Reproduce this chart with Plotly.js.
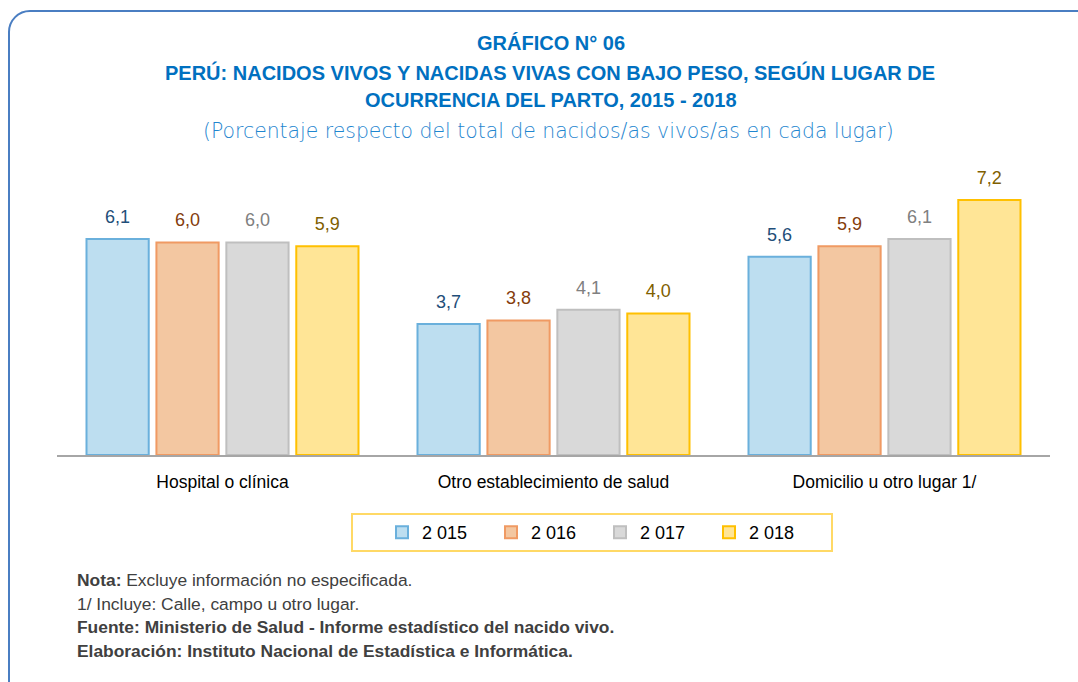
<!DOCTYPE html>
<html>
<head>
<meta charset="utf-8">
<script src="https://cdn.plot.ly/plotly-3.0.1.min.js"></script>
<style>
  html, body { margin:0; padding:0; background:#fff; }
  #frame { position:absolute; left:8px; top:10px; width:1100px; height:700px; border:2px solid #4A7EC2; border-radius:22px; box-sizing:border-box; pointer-events:none; z-index:2; }
  #chart { position:absolute; left:0; top:0; width:1078px; height:682px; }
</style>
</head>
<body>
<div id="chart"></div>
<div id="frame"></div>
<script>
const categories = ["Hospital o clínica", "Otro establecimiento de salud", "Domicilio u otro lugar 1/"];
const years = ["2 015", "2 016", "2 017", "2 018"];
const v2015 = [6.1, 3.7, 5.6];
const v2016 = [6.0, 3.8, 5.9];
const v2017 = [6.0, 4.1, 6.1];
const v2018 = [5.9, 4.0, 7.2];

const series = [v2015, v2016, v2017, v2018];
const fills = ["#BDDEF0", "#F3C7A1", "#D9D9D9", "#FFE596"];
const lines = ["#6AB0DC", "#F09A63", "#BFBFBF", "#FFC000"];
const labelColors = ["#1F4E79", "#843C0C", "#808080", "#7F6000"];

const FONT = "'Liberation Sans', Arial, sans-serif";

const W = 1078, H = 682;
const mL = 57, mR = 28, mT = 160, mB = 227;
const pw = W - mL - mR, ph = H - mT - mB;
const px = x => (x - mL) / pw;
const py = y => (H - mB - y) / ph;

const barTraces = series.map((vals, i) => ({
  type: "bar",
  name: years[i],
  x: categories,
  y: vals,
  offsetgroup: "g" + i,
  marker: { color: fills[i], line: { color: lines[i], width: 2 } },
  hoverinfo: "skip"
}));

const labelTraces = series.map((vals, i) => ({
  type: "scatter",
  mode: "markers+text",
  showlegend: false,
  x: categories,
  y: vals,
  offsetgroup: "g" + i,
  marker: { size: 17, opacity: 0 },
  text: vals.map(v => v.toFixed(1).replace(".", ",")),
  textposition: "top center",
  cliponaxis: false,
  textfont: { family: FONT, size: 18, color: labelColors[i] },
  hoverinfo: "skip"
}));

const annotations = [
  { text: "<b>GRÁFICO N° 06</b>", x: px(551), y: py(43), size: 20, color: "#0070C0", family: FONT },
  { text: "<b>PERÚ: NACIDOS VIVOS Y NACIDAS VIVAS CON BAJO PESO, SEGÚN LUGAR DE</b>", x: px(550), y: py(72), size: 20, color: "#0070C0", family: FONT },
  { text: "<b>OCURRENCIA DEL PARTO, 2015 - 2018</b>", x: px(551), y: py(100), size: 20, color: "#0070C0", family: FONT },
  { text: "(Porcentaje respecto del total de nacidos/as vivos/as en cada lugar)", x: px(548), y: py(131), size: 20.4, color: "#1F86CF", family: "'DejaVu Sans', sans-serif", light: true }
].map(a => ({
  xref: "paper", yref: "paper", x: a.x, y: a.y, xanchor: "center", yanchor: "middle",
  text: a.text, showarrow: false, font: { family: a.family, size: a.size, color: a.color, weight: a.light ? 200 : undefined }
}));

const notes = [
  "<b>Nota:</b> Excluye información no especificada.",
  "1/ Incluye: Calle, campo u otro lugar.",
  "<b>Fuente: Ministerio de Salud - Informe estadístico del nacido vivo.</b>",
  "<b>Elaboración: Instituto Nacional de Estadística e Informática.</b>"
];
const noteY = [580, 604, 627, 651];
notes.forEach((t, i) => annotations.push({
  xref: "paper", yref: "paper", x: px(75), y: py(noteY[i]), xanchor: "left", yanchor: "middle",
  text: t, showarrow: false, font: { family: FONT, size: 17.4, color: "#404040" }
}));

const layout = {
  width: W, height: H,
  margin: { l: mL, r: mR, t: mT, b: mB },
  paper_bgcolor: "#ffffff", plot_bgcolor: "#ffffff",
  separators: ", ",
  barmode: "group",
  scattermode: "group",
  bargap: 0.155,
  bargroupgap: 0.11,
  scattergap: 0.155,
  showlegend: true,
  legend: {
    orientation: "h", x: px(382), y: py(514), xanchor: "left", yanchor: "top",
    font: { family: FONT, size: 18, color: "#000" },
    entrywidth: 64, entrywidthmode: "pixels",
    bgcolor: "rgba(0,0,0,0)", traceorder: "normal"
  },
  xaxis: {
    type: "category", showline: true, linecolor: "#A6A6A6", linewidth: 1.5,
    ticks: "", ticklabelstandoff: 10,
    tickfont: { family: FONT, size: 17.5, color: "#000" }, fixedrange: true
  },
  yaxis: { range: [0, ph / 35.4], visible: false, showgrid: false, zeroline: false, fixedrange: true },
  shapes: [
    { type: "rect", xref: "paper", yref: "paper", x0: px(352), x1: px(832), y0: py(514), y1: py(551),
      line: { color: "#FFD966", width: 2 }, fillcolor: "rgba(0,0,0,0)", layer: "below" }
  ],
  annotations: annotations
};

Plotly.newPlot("chart", barTraces.concat(labelTraces), layout, { displayModeBar: false, staticPlot: true });
</script>
</body>
</html>
